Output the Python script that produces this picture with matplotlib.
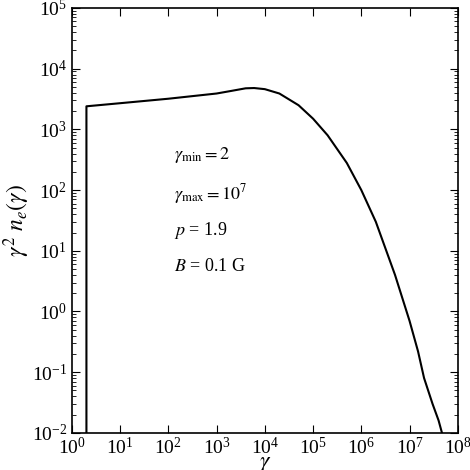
import matplotlib
matplotlib.use("Agg")
import matplotlib.pyplot as plt

gamma = [2, 2, 10, 100, 1e3, 2e3, 4e3, 6e3, 1e4, 2e4, 5e4, 1e5, 2e5, 5e5, 1e6, 2e6,
         5e6, 1e7, 1.5e7, 2e7, 3e7, 4e7, 4.7e7]
y = [1e-2, 2400, 2700, 3200, 3900, 4300, 4750, 4800, 4600, 3900, 2500, 1500, 800, 280,
     100, 30, 4, 0.7, 0.22, 0.08, 0.03, 0.016, 1e-2]

plt.rcParams['font.family'] = ['Liberation Serif', 'DejaVu Serif']
plt.rcParams['mathtext.fontset'] = 'stix'
fig = plt.figure(figsize=(4.7, 4.7), dpi=100)
ax = fig.add_axes([0.153, 0.079, 0.821, 0.904])
ax.plot(gamma, y, color='black', lw=1.5)
ax.set_xscale('log'); ax.set_yscale('log')
ax.set_xlim(1, 1e8); ax.set_ylim(1e-2, 1e5)
ax.set_xticks([10**i for i in range(9)])
ax.set_yticks([10**i for i in range(-2, 6)])
ax.tick_params(which='both', direction='in', top=True, right=True, labelsize=14)
ax.tick_params(axis='x', pad=3)
ax.tick_params(which='major', length=6)
ax.tick_params(which='minor', length=3)
for s in ax.spines.values():
    s.set_linewidth(1.2)
ax.set_xlabel(r'$\gamma$', fontsize=17, labelpad=-3)
ax.set_ylabel(r'$\gamma^2\ n_e(\gamma)$', fontsize=17, labelpad=0)
kw = dict(transform=ax.transAxes, fontsize=13)
ax.text(0.265, 0.645, r'$\gamma_{\rm min} = 2$', **kw)
ax.text(0.265, 0.55, r'$\gamma_{\rm max} = 10^7$', **kw)
ax.text(0.265, 0.465, r'$p$ = 1.9', **kw)
ax.text(0.265, 0.38, r'$B$ = 0.1 G', **kw)
fig.savefig('out.png', dpi=100)
